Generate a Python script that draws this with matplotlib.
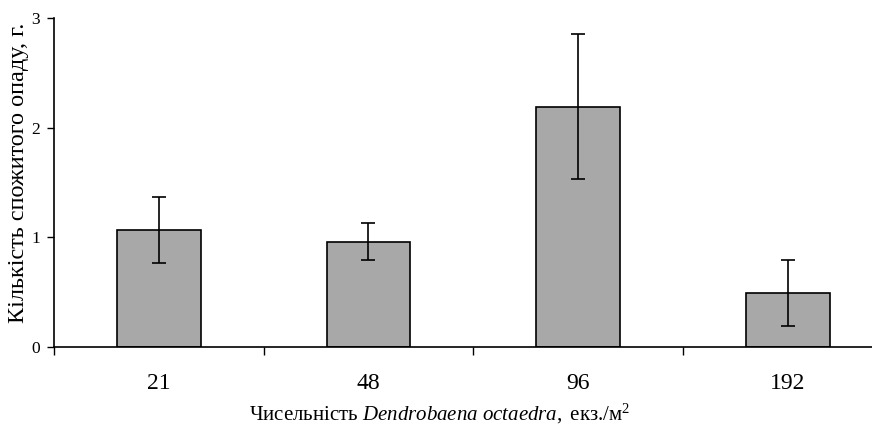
import numpy as np
import matplotlib
matplotlib.use("Agg")
import matplotlib.pyplot as plt

plt.rcParams['font.family'] = ['Liberation Serif', 'DejaVu Serif']
plt.rcParams['mathtext.fontset'] = 'custom'
plt.rcParams['mathtext.rm'] = 'Liberation Serif'
plt.rcParams['mathtext.it'] = 'Liberation Serif:italic'

categories = ["21", "48", "96", "192"]
means = [1.07, 0.96, 2.19, 0.49]
errors = [0.30, 0.17, 0.66, 0.30]

fig = plt.figure(figsize=(8.72, 4.28), dpi=100)
ax = fig.add_axes([54 / 872, 81 / 428, 838.5 / 872, 329 / 428])

x = np.arange(len(categories))
ax.bar(x, means, width=0.4, color='#a8a8a8', edgecolor='black', linewidth=1.2, zorder=2)
ax.errorbar(x, means, yerr=errors, fmt='none', ecolor='black', elinewidth=1.2,
            capsize=5, capthick=1.2, zorder=3)

ax.set_xlim(-0.5, 3.5)
ax.set_ylim(0, 3)
ax.set_yticks([0, 1, 2, 3])
ax.set_xticks(x)
ax.set_xticklabels(categories, fontsize=17)
ax.set_xticks(np.arange(-0.5, 3.6, 1), minor=True)
ax.tick_params(axis='x', which='major', length=0, pad=19)
ax.tick_params(axis='x', which='minor', length=6, direction='out', width=1)
ax.tick_params(axis='y', length=5, direction='out', width=1, labelsize=12.5, pad=5)

for s in ['top', 'right']:
    ax.spines[s].set_visible(False)
ax.spines['left'].set_linewidth(1.2)
ax.spines['bottom'].set_linewidth(1.2)

fig.text(440 / 872, 8 / 428,
         'Чисельність $\\mathit{Dendrobaena\\ octaedra,}$ екз./м$^2$',
         fontsize=15, ha='center', va='baseline')
fig.text(19 / 872, 255 / 428, 'Кількість спожитого опаду, г.',
         fontsize=17.5, rotation=90, ha='center', va='center')

fig.savefig("out.png", dpi=100)
